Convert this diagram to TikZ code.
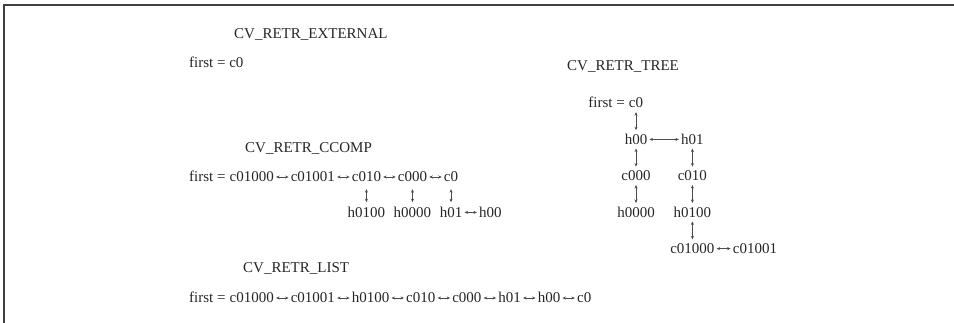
\documentclass[tikz,border=0pt]{standalone}
\usepackage{fontspec}
\setmainfont{Liberation Serif}
\usetikzlibrary{positioning, arrows.meta}

\begin{document}
\begin{tikzpicture}[
    x=1pt, y=-1pt,
    node distance=16.5pt,
    word/.style={inner sep=0pt, text height=10pt, text depth=0pt,
                 font=\fontsize{15}{18}\selectfont, text=black!85},
    lbl/.style={word},
    title/.style={word, anchor=base west},
    harr/.style={{Stealth[length=3.5pt,width=3pt]}-{Stealth[length=3.5pt,width=3pt]},
                 line width=0.5pt, black!70, shorten <=2pt, shorten >=2pt},
    varr/.style={harr, shorten <=4pt, shorten >=4pt},
    frame/.style={line width=1.8pt, black!75},
]
\useasboundingbox (0,0) rectangle (954,323);
\draw[frame] (4,323) -- (4,5) -- (954,5);

% CV_RETR_EXTERNAL
\node[title] (ext) at (234,39) {CV\_RETR\_EXTERNAL};
\node[lbl, anchor=base west] (efirst) at (189,68) {first = c0};

% CV_RETR_CCOMP
\node[title] (ccomp) at (245,153) {CV\_RETR\_CCOMP};
\node[lbl, anchor=base west] (cfirst) at (189,182) {first =};
\node[word, right=3.75pt of cfirst] (cc01000) {c01000};
\node[word, right=of cc01000] (cc01001) {c01001};
\node[word, right=of cc01001] (cc010) {c010};
\node[word, right=of cc010] (cc000) {c000};
\node[word, right=of cc000] (cc0) {c0};
\node[word, below=25pt of cc010] (ch0100) {h0100};
\node[word, below=25pt of cc000] (ch0000) {h0000};
\node[word, below=25pt of cc0] (ch01) {h01};
\node[word, right=of ch01] (ch00) {h00};

\foreach \a/\b in {cc01000/cc01001, cc01001/cc010, cc010/cc000, cc000/cc0, ch01/ch00}
  \draw[harr] (\a) -- (\b);
\foreach \a/\b in {cc010/ch0100, cc000/ch0000, cc0/ch01}
  \draw[varr, shorten <=7pt, shorten >=5pt] (\a) -- (\b);

% CV_RETR_TREE
\node[title] (tree) at (567,71) {CV\_RETR\_TREE};
\node[word, anchor=base] (tc0) at (636,108) {c0};
\node[lbl, left=3.75pt of tc0] (tfirst) {first =};
\node[word, below=26pt of tc0] (th00) {h00};
\node[word, right=33.5pt of th00] (th01) {h01};
\node[word, below=26pt of th00] (tc000) {c000};
\node[word, below=26pt of tc000] (th0000) {h0000};
\node[word, below=26pt of th01] (tc010) {c010};
\node[word, below=26pt of tc010] (th0100) {h0100};
\node[word, below=26pt of th0100] (tc01000) {c01000};
\node[word, right=18pt of tc01000] (tc01001) {c01001};

\foreach \a/\b in {th00/th01, tc01000/tc01001}
  \draw[harr] (\a) -- (\b);
\foreach \a/\b in {tc0/th00, th00/tc000, tc000/th0000, th01/tc010, tc010/th0100, th0100/tc01000}
  \draw[varr] (\a) -- (\b);

% CV_RETR_LIST
\node[title] (list) at (243,273) {CV\_RETR\_LIST};
\node[lbl, anchor=base west] (lfirst) at (189,303) {first =};
\node[word, right=3.75pt of lfirst] (lc01000) {c01000};
\node[word, right=of lc01000] (lc01001) {c01001};
\node[word, right=of lc01001] (lh0100) {h0100};
\node[word, right=of lh0100] (lc010) {c010};
\node[word, right=of lc010] (lc000) {c000};
\node[word, right=of lc000] (lh01) {h01};
\node[word, right=of lh01] (lh00) {h00};
\node[word, right=of lh00] (lc0) {c0};

\foreach \a/\b in {lc01000/lc01001, lc01001/lh0100, lh0100/lc010, lc010/lc000,
                   lc000/lh01, lh01/lh00, lh00/lc0}
  \draw[harr] (\a) -- (\b);

\end{tikzpicture}
\end{document}
